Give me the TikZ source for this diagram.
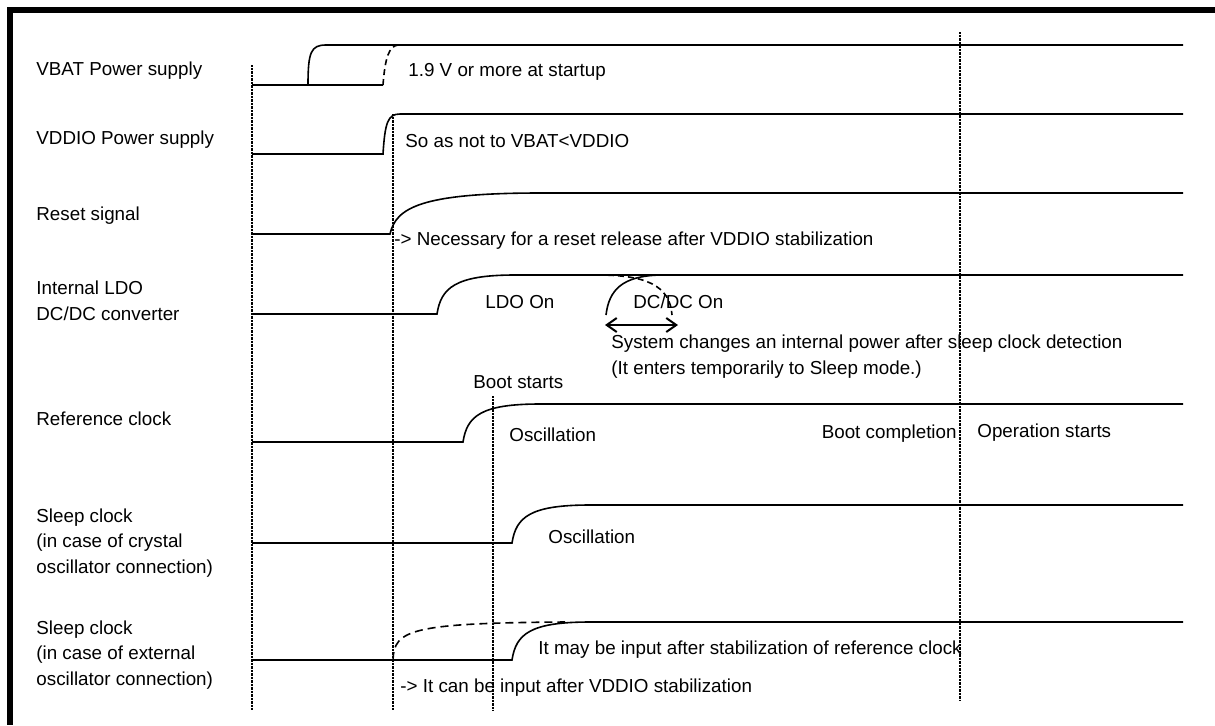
\documentclass[tikz,border=0pt]{standalone}
\usepackage{fontspec}
\setmainfont{Liberation Sans}
\usetikzlibrary{arrows.meta}
\begin{document}
\begin{tikzpicture}[x=0.5pt,y=-0.5pt,
  sig/.style={line width=0.8pt},
  dsig/.style={line width=0.8pt, dash pattern=on 3pt off 2pt},
  dsiglong/.style={line width=0.8pt, dash pattern=on 4pt off 2.5pt},
  vgrid/.style={line width=0.55pt, dash pattern=on 0.4pt off 0.3pt},
  txt/.style={inner sep=0pt, anchor=base west, font=\fontsize{9.4pt}{12.6pt}\selectfont, align=left},
  txte/.style={txt, anchor=base east},
  dblarrow/.style={line width=1pt, {Straight Barb[length=5pt,width=7pt]}-{Straight Barb[length=5pt,width=7pt]}}
  ]
\useasboundingbox (0,0) rectangle (1215,725);
% frame
\draw[line width=3pt] (1215,10) -- (10,10) -- (10,725);

% vertical reference lines
\coordinate (g1t) at (252,65);  \coordinate (g1b) at (252,710);
\coordinate (g2t) at (393,114); \coordinate (g2b) at (393,710);
\coordinate (g3t) at (493,396); \coordinate (g3b) at (493,710);
\coordinate (g4t) at (960,32);  \coordinate (g4b) at (960,700);
\draw[vgrid] (g1t) -- (g1b);
\draw[vgrid] (g2t) -- (g2b);
\draw[vgrid] (g3t) -- (g3b);
\draw[vgrid] (g4t) -- (g4b);

% row labels (base anchor = last line baseline)
\node[txt] (lvbat) at (36,75) {VBAT Power supply};
\node[txt] (lvddio) at (36,144) {VDDIO Power supply};
\node[txt] (lreset) at (36,220) {Reset signal};
\node[txt] (lldo) at (36,320) {Internal LDO\\DC/DC converter};
\node[txt] (lref) at (36,425) {Reference clock};
\node[txt] (lslpx) at (36,573) {Sleep clock\\(in case of crystal\\oscillator connection)};
\node[txt] (lslpe) at (36,685) {Sleep clock\\(in case of external\\oscillator connection)};

% VBAT
\draw[sig] (252,85) -- (308,85) .. controls (308,52) and (311,45) .. (326,45) -- (1183,45);
\draw[sig] (308,85) -- (383,85);
\draw[dsig] (383,85) .. controls (385,58) and (389,46) .. (398,45);
\node[txt] (tvbat) at (408,76) {1.9 V or more at startup};

% VDDIO
\draw[sig] (252,154) -- (383,154) .. controls (385,122) and (388,114) .. (400,114) -- (1183,114);
\node[txt] (tvddio) at (405,147) {So as not to VBAT<VDDIO};

% Reset
\draw[sig] (252,234) -- (390,234) .. controls (396,208) and (420,193) .. (540,193) -- (1183,193);
\node[txt] (treset) at (394,245) {-> Necessary for a reset release after VDDIO stabilization};

% LDO / DCDC
\draw[sig] (252,314) -- (437,314) .. controls (441,288) and (455,275) .. (515,275) -- (1183,275);
\draw[sig] (606,315) .. controls (609,290) and (622,276) .. (660,275);
\draw[dsig] (598,275) .. controls (645,275) and (670,285) .. (672,315);
\coordinate (arl) at (605,325); \coordinate (arr) at (678,325);
\draw[dblarrow] (arl) -- (arr);
\node[txt] (tldo) at (485,308) {LDO On};
\node[txt] (tdcdc) at (633,308) {DC/DC On};
\node[txt] (tsys) at (611,374) {System changes an internal power after sleep clock detection\\(It enters temporarily to Sleep mode.)};

% Reference clock
\draw[sig] (252,442) -- (463,442) .. controls (467,416) and (481,404) .. (540,404) -- (1183,404);
\node[txt] (tboot) at (473,388) {Boot starts};
\node[txt] (tosc1) at (509,441) {Oscillation};
\node[txte] (tbootc) at (957,438) {Boot completion};
\node[txt] (topst) at (977,437) {Operation starts};

% Sleep clock crystal
\draw[sig] (252,543) -- (512,543) .. controls (516,517) and (530,505) .. (590,505) -- (1183,505);
\node[txt] (tosc2) at (548,543) {Oscillation};

% Sleep clock external
\draw[sig] (252,660) -- (512,660) .. controls (516,634) and (530,622) .. (590,622) -- (1183,622);
\draw[dsiglong] (393,660) .. controls (394,630) and (410,623) .. (565,622);
\node[txt] (tmay) at (538,654) {It may be input after stabilization of reference clock};
\node[txt] (tcan) at (400,692) {-> It can be input after VDDIO stabilization};
\end{tikzpicture}
\end{document}
